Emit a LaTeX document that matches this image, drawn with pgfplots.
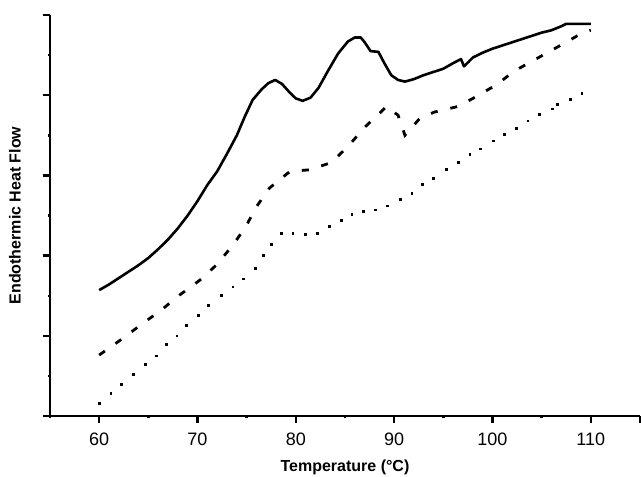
\documentclass[border=0pt]{standalone}
\usepackage{fontspec}
\setmainfont{Liberation Sans}
\usepackage{pgfplots}
\pgfplotsset{compat=1.18}
\begin{document}
\begin{tikzpicture}
\begin{axis}[
    scale only axis,
    width=295pt, height=200.5pt,
    xmin=55, xmax=115, ymin=0, ymax=5,
    axis x line=bottom, axis y line=left,
    axis line style={-, line width=1.3pt},
    xtick={60,70,80,90,100,110,115},
    xticklabels={60,70,80,90,100,110,{}},
    minor xtick={55,65,...,105},
    ytick={0,1,2,3,4,5}, yticklabels={},
    minor ytick={0.5,1.5,2.5,3.5,4.5},
    tick align=outside,
    major tick length=3.5pt, minor tick length=1.2pt,
    every tick/.style={line width=1.2pt, black},
    tick label style={font=\fontsize{9}{10.8}\selectfont},
    xticklabel style={yshift=-1.5pt},
    /pgf/number format/assume math mode=true,
    xlabel={Temperature (°C)},
    ylabel={Endothermic Heat Flow},
    label style={font=\fontsize{8}{9.6}\selectfont\bfseries},
    xlabel style={at={(axis description cs:0.5,0)}, anchor=center, yshift=-25.5pt},
    ylabel style={at={(axis description cs:-0.0593,0.5)}, anchor=center},
    clip=false,
]
% solid
\addplot[black, line width=1.3pt, line join=round] coordinates {
    (60,1.57) (61,1.64) (62,1.72) (63,1.80) (64,1.88) (65,1.97) (66,2.08)
    (67,2.20) (68,2.34) (69,2.50) (70,2.68) (71,2.88) (72,3.05) (73,3.27)
    (74,3.50) (74.8,3.73) (75.6,3.94) (76.5,4.07) (77.2,4.15) (77.9,4.19)
    (78.6,4.14) (79.4,4.03) (80,3.96) (80.7,3.93) (81.5,3.97) (82.3,4.09)
    (83.3,4.31) (84.3,4.52) (85.3,4.67) (86.0,4.72) (86.6,4.72) (87.0,4.66)
    (87.6,4.55) (88.4,4.54) (89,4.40) (89.7,4.25) (90.4,4.19) (91.1,4.17)
    (92,4.20) (93,4.25) (94,4.29) (95,4.33) (96,4.40) (96.8,4.45) (97.1,4.36)
    (97.6,4.42) (98,4.47) (99,4.53) (100,4.58) (101,4.62) (102,4.66)
    (103,4.70) (104,4.74) (105,4.78) (106,4.81) (107,4.86) (107.5,4.89) (110,4.89)
};
% dashed
\addplot[black, line width=1.4pt, dash pattern=on 3.5pt off 6.5pt] coordinates {
    (60,0.76) (62.2,0.95) (64.5,1.16) (66.3,1.32) (68.2,1.51) (70.2,1.69)
    (71.9,1.88) (73.6,2.13) (74.9,2.36) (76.0,2.61) (77.3,2.84) (79.4,3.05)
    (81.4,3.07) (83.6,3.16) (85.3,3.36) (87,3.60) (88.9,3.82) (89.2,3.86)
    (90.4,3.75) (91.1,3.50) (92.6,3.71) (94.1,3.79) (96.5,3.86) (98.3,3.98)
    (100.4,4.13) (102.2,4.30) (104.4,4.45) (106.6,4.60) (109.2,4.78) (110,4.81)
};
% dotted
\addplot[black, only marks, mark=square*, mark size=0.45pt] coordinates {
    (60,0.16) (61.2,0.28) (62.3,0.39) (63.5,0.52) (64.7,0.64) (65.8,0.75)
    (66.8,0.89) (67.9,1.00) (68.9,1.13) (70.1,1.25) (71.1,1.38) (72.4,1.50)
    (73.6,1.61) (74.7,1.71) (75.9,1.84) (76.7,2.00) (77.5,2.14) (78.5,2.28)
    (79.7,2.28) (81,2.26) (82.2,2.28) (83.4,2.36) (84.6,2.44) (85.7,2.51)
    (86.9,2.55) (88.1,2.57) (89.3,2.62) (90.6,2.70) (91.8,2.78) (92.9,2.89)
    (94.0,2.96) (95.3,3.07) (96.5,3.16) (97.7,3.26) (98.8,3.33) (100.1,3.43)
    (101.2,3.51) (102.4,3.59) (103.6,3.68) (104.8,3.76) (106.1,3.83)
    (106.6,3.89) (107.9,3.95) (109.1,4.02)
};
\end{axis}
\pgfresetboundingbox
\path[use as bounding box] (-25pt,-30pt) rectangle (295.5pt,208pt);
\end{tikzpicture}
\end{document}
